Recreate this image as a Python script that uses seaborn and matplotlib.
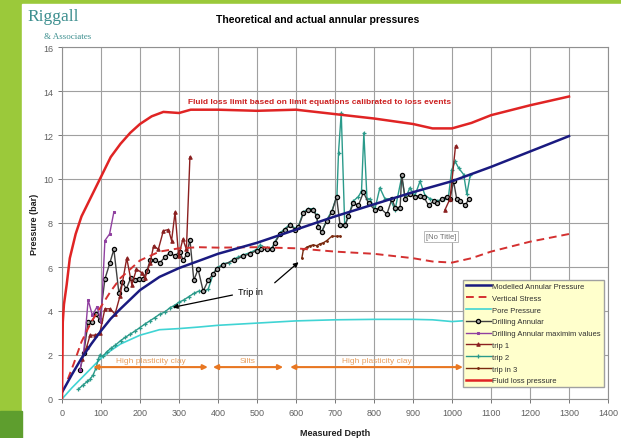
import numpy as np
import pandas as pd
import matplotlib
matplotlib.use('Agg')
import matplotlib.pyplot as plt
import seaborn as sns
from matplotlib.patches import Rectangle

plt.rcParams.update({
    'font.family': ['Liberation Sans', 'DejaVu Sans'],
    'font.size': 7,
    'axes.linewidth': 0.8,
})

# ---- data ----
fluid_x = [0, 2, 5, 12, 20, 35, 50, 75, 100, 125, 150, 175, 200, 230, 260, 300, 330, 400, 500,
           600, 650, 700, 800, 900, 950, 1000, 1050, 1100, 1200, 1300]
fluid_y = [0.0, 3.5, 4.3, 5.2, 6.4, 7.5, 8.3, 9.2, 10.1, 11.0, 11.6, 12.1, 12.5, 12.85, 13.05, 13.0,
           13.15, 13.15, 13.1, 13.15, 13.05, 12.95, 12.75, 12.5, 12.3, 12.3, 12.55, 12.9, 13.35, 13.75]

model_x = [0, 25, 50, 75, 100, 125, 150, 200, 250, 300, 354, 400, 500, 600, 700, 800, 900, 1000,
           1100, 1200, 1300]
model_y = [0.3, 1.1, 1.85, 2.5, 3.1, 3.65, 4.1, 4.95, 5.55, 5.95, 6.3, 6.6, 7.1, 7.7, 8.3, 8.85,
           9.4, 9.9, 10.55, 11.25, 11.95]

vstress_x = [15, 30, 50, 75, 100, 125, 150, 175, 200, 250, 300, 350, 400, 500, 600, 700, 800, 900,
             950, 1000, 1050, 1100, 1200, 1300]
vstress_y = [0.9, 1.6, 2.6, 3.5, 4.2, 4.9, 5.5, 5.9, 6.3, 6.7, 6.85, 6.9, 6.88, 6.9, 6.85, 6.7,
             6.6, 6.4, 6.25, 6.2, 6.4, 6.7, 7.15, 7.5]

pore_x = [0, 25, 50, 75, 100, 125, 150, 200, 250, 300, 350, 400, 500, 600, 700, 800, 900, 950,
          1000, 1050, 1100, 1200, 1300]
pore_y = [0.0, 0.5, 0.95, 1.4, 1.85, 2.2, 2.5, 2.9, 3.15, 3.2, 3.27, 3.35, 3.45, 3.55, 3.6, 3.62,
          3.62, 3.6, 3.52, 3.58, 3.62, 3.65, 3.65]

drill_x = [46, 56, 67, 76, 86, 97, 110, 123, 133, 146, 155, 165, 176, 187, 197, 208, 217, 226, 239,
           251, 264, 276, 289, 302, 311, 320, 328, 338, 349, 362, 375, 388, 397, 414, 440, 465, 482,
           499, 510, 525, 538, 546, 559, 572, 585, 598, 606, 619, 632, 644, 653, 657, 666, 679, 692,
           704, 713, 726, 734, 747, 760, 773, 786, 802, 815, 833, 846, 854, 867, 871, 880, 892, 905,
           918, 927, 940, 953, 961, 974, 987, 995, 1004, 1012, 1021, 1034, 1043]
drill_y = [1.3, 2.1, 3.5, 3.5, 3.85, 3.6, 5.45, 6.2, 6.8, 4.8, 5.3, 5.0, 5.5, 5.4, 5.45, 5.45, 5.8,
           6.3, 6.3, 6.2, 6.45, 6.65, 6.5, 6.7, 6.3, 6.6, 7.25, 5.4, 5.9, 4.9, 5.4, 5.7, 5.9, 6.1,
           6.3, 6.5, 6.6, 6.75, 6.8, 6.8, 6.8, 7.1, 7.5, 7.7, 7.9, 7.7, 7.8, 8.45, 8.6, 8.6, 8.3,
           7.8, 7.6, 8.1, 8.5, 9.2, 7.9, 7.9, 8.3, 8.9, 8.8, 9.4, 8.9, 8.6, 8.7, 8.4, 9.1, 8.7, 8.7,
           10.2, 9.1, 9.3, 9.2, 9.25, 9.2, 8.8, 9.0, 8.9, 9.1, 9.2, 9.1, 9.9, 9.1, 9.0, 8.8, 9.1]

dmax_x = [46, 56, 67, 78, 90, 100, 110, 122, 133]
dmax_y = [1.3, 2.2, 4.5, 3.8, 4.2, 3.5, 7.2, 7.5, 8.5]

trip1a_x = [50, 63, 72, 85, 97, 110, 123, 136, 149, 166, 179, 191, 204, 213, 226, 235, 247, 260,
            273, 281, 290, 299, 310, 319, 328]
trip1a_y = [1.8, 2.35, 2.9, 2.9, 3.0, 4.1, 4.1, 3.86, 4.7, 6.4, 5.2, 5.9, 5.75, 5.5, 6.2, 6.97,
            6.8, 7.65, 7.7, 7.2, 8.5, 6.5, 7.27, 6.8, 11.0]
trip1b_x = [982, 995, 1009]
trip1b_y = [8.6, 9.1, 11.5]

trip2_x = [42, 55, 65, 72, 80, 87, 93, 97, 105, 115, 125, 137, 150, 162, 175, 188, 200, 212, 225,
           238, 250, 263, 277, 288, 300, 312, 325, 338, 350, 365, 375, 388, 397, 414, 427, 440, 452,
           465, 482, 499, 508, 525, 538, 546, 559, 572, 585, 598, 606, 619, 632, 644, 653, 657, 666,
           679, 692, 705, 709, 716, 725, 734, 747, 760, 768, 774, 782, 790, 802, 815, 828, 841, 854,
           871, 880, 892, 905, 918, 931, 944, 961, 979, 991, 999, 1008, 1017, 1030, 1038, 1047]
trip2_y = [0.45, 0.65, 0.8, 0.9, 1.1, 1.4, 1.8, 2.0, 1.95, 2.15, 2.3, 2.45, 2.65, 2.8, 2.95, 3.1,
           3.25, 3.4, 3.55, 3.7, 3.85, 3.95, 4.15, 4.25, 4.4, 4.5, 4.65, 4.8, 4.9, 4.9, 5.0, 5.7,
           5.95, 6.15, 6.2, 6.35, 6.45, 6.55, 6.65, 6.8, 7.0, 6.85, 6.85, 7.15, 7.55, 7.75, 7.95,
           7.75, 7.85, 8.5, 8.65, 8.65, 8.35, 7.85, 7.6, 8.15, 8.55, 9.25, 11.2, 13.0, 7.85, 8.3,
           9.0, 9.2, 9.45, 12.1, 9.1, 9.1, 8.6, 9.6, 9.1, 9.1, 8.6, 10.1, 9.1, 9.6, 9.25, 9.9, 9.25,
           9.1, 9.0, 9.1, 9.2, 10.4, 10.8, 10.5, 10.2, 9.3, 10.2]

trip3_x = [615, 619, 628, 636, 644, 653, 661, 670, 679, 692, 704, 713]
trip3_y = [6.4, 6.8, 6.9, 6.97, 7.0, 6.97, 7.05, 7.1, 7.2, 7.4, 7.4, 7.4]

litho_start = [80, 387, 585]
litho_end = [374, 567, 1028]
litho_names = ['High plasticity clay', 'Silts', 'High plasticity clay']
litho_level = 1.45

# ---- figure ----
fig = plt.figure(figsize=(6.21, 4.39), dpi=100)
fig.patches.append(Rectangle((0, 0), 1, 1, transform=fig.transFigure, color='#9bc93a', zorder=-10))
fig.patches.append(Rectangle((22 / 621, 0), 1, 1 - 5 / 439, transform=fig.transFigure,
                             color='white', zorder=-9))
fig.patches.append(Rectangle((0, 0), 22 / 621, 27 / 439, transform=fig.transFigure,
                             color='#5e9e2e', zorder=-8))

ax = fig.add_axes([62 / 621, 1 - 400 / 439, 546 / 621, 352 / 439])
ax.set_facecolor('white')


def draw(x, y, label, color, **kw):
    df = pd.DataFrame({'x': x, 'y': y})
    kw.setdefault('mec', color)
    sns.lineplot(data=df, x='x', y='y', ax=ax, sort=False, estimator=None, label=label,
                 color=color, linestyle='-', **kw)


draw(pore_x, pore_y, 'Pore Pressure', '#40d4d4', lw=1.2, zorder=3)
draw(trip2_x, trip2_y, 'trip 2', '#2a9a8a', lw=1.0, marker='+', ms=3.5, mew=0.9, zorder=4)
draw(drill_x, drill_y, 'Drilling Annular', '#404040', lw=1.0, marker='o', ms=3.0,
     mfc='#a8a8a8', mec='black', mew=0.9, zorder=5)
draw(dmax_x, dmax_y, 'Drilling Annular maximim values', '#9040a0', lw=1.0, marker='s',
     ms=2.0, zorder=5)
draw(trip1a_x, trip1a_y, 'trip 1', '#8b2020', lw=1.0, marker='^', ms=2.5, zorder=5)
draw(trip1b_x, trip1b_y, '_trip1b', '#8b2020', lw=1.0, marker='^', ms=2.5, zorder=5)
draw(trip3_x, trip3_y, 'trip in 3', '#7a2a10', lw=1.0, marker='.', ms=2.5, zorder=5)
draw(vstress_x, vstress_y, 'Vertical Stress', '#d43030', lw=1.4, zorder=6)
ax.lines[-1].set_linestyle((0, (4, 2.5)))
draw(model_x, model_y, 'Modelled Annular Pressure', '#1a1a80', lw=1.8, zorder=6)
draw(fluid_x, fluid_y, 'Fluid loss pressure', '#e02424', lw=1.8, zorder=6)

# lithology arrows
for s, e, name in zip(litho_start, litho_end, litho_names):
    ax.annotate('', xy=(e, litho_level), xytext=(s, litho_level),
                arrowprops=dict(arrowstyle='<|-|>', color='#e87722', lw=1.5,
                                mutation_scale=7, shrinkA=0, shrinkB=0), zorder=7)
    ax.text((s + e) / 2, litho_level + 0.15, name, ha='center', va='bottom',
            color='#e8a060', fontsize=6, zorder=7)

# annotations
ax.text(661, 13.5, 'Fluid loss limit based on limit equations calibrated to loss events',
        color='#cc2020', fontsize=6.0, fontweight='bold', ha='center', va='center', zorder=8)
ax.text(972, 7.4, '[No Title]', color='#707070', fontsize=5.5, ha='center', va='center',
        bbox=dict(facecolor='white', edgecolor='#b0b0b0', lw=0.6, pad=1.5), zorder=8)
ax.text(482, 4.9, 'Trip in', color='black', fontsize=6.5, ha='center', va='center', zorder=8)
ax.annotate('', xy=(277, 4.14), xytext=(444, 4.75),
            arrowprops=dict(arrowstyle='-|>', color='black', lw=0.9, mutation_scale=7), zorder=8)
ax.annotate('', xy=(612, 6.3), xytext=(540, 5.2),
            arrowprops=dict(arrowstyle='-|>', color='black', lw=0.9, mutation_scale=7), zorder=8)

# axes styling
ax.set_xlim(0, 1400)
ax.set_ylim(0, 16)
ax.set_xticks(np.arange(0, 1401, 100))
ax.set_yticks(np.arange(0, 17, 2))
ax.grid(True, color='#a0a0a0', lw=0.8)
ax.set_axisbelow(True)
for sp in ax.spines.values():
    sp.set_color('#909090')
ax.tick_params(labelsize=6.5, colors='#606060', length=3, width=0.6)
ax.set_xlabel('Measured Depth', fontsize=6.5, fontweight='bold', color='#202020', labelpad=8)
ax.set_ylabel('Pressure (bar)', fontsize=6.5, fontweight='bold', color='#202020', labelpad=3)

order = ['Modelled Annular Pressure', 'Vertical Stress', 'Pore Pressure', 'Drilling Annular',
         'Drilling Annular maximim values', 'trip 1', 'trip 2', 'trip in 3', 'Fluid loss pressure']
handles, labels = ax.get_legend_handles_labels()
lookup = dict(zip(labels, handles))
leg = ax.legend([lookup[k] for k in order], order, loc='lower right',
                bbox_to_anchor=(1.0, 0.022), fontsize=5.5, frameon=True, fancybox=False,
                framealpha=1, facecolor='#ffffcc', edgecolor='#a0a0a0', handlelength=3.3,
                handletextpad=0.2, labelspacing=0.58, borderpad=0.4)
leg.set_zorder(20)
for t in leg.get_texts():
    t.set_color('#303030')

fig.text(318 / 621, 1 - 20 / 439, 'Theoretical and actual annular pressures', ha='center',
         va='center', fontsize=7.5, fontweight='bold', color='black')
fig.text(27 / 621, 1 - 17 / 439, 'Riggall', family='Liberation Serif', fontsize=12.5,
         color='#3d8f8f', ha='left', va='center')
fig.text(44 / 621, 1 - 37 / 439, '& Associates', family='Liberation Serif', fontsize=6.5,
         color='#3d8f8f', ha='left', va='center')

fig.savefig('out.png', dpi=100)
